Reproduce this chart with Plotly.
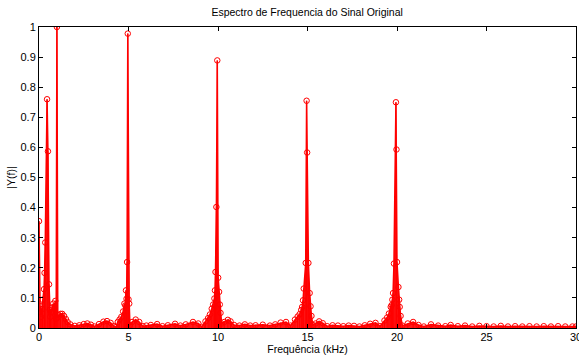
import plotly.graph_objects as go

# ---- data ----
freq_khz = [
    0.00, 0.06, 0.11, 0.17, 0.20, 0.28, 0.31, 0.35, 0.45, 0.50,
    0.56, 0.60, 0.63, 0.67, 0.73, 0.80, 0.87, 0.91, 0.96, 1.00,
    1.05, 1.12, 1.20, 1.30, 1.40, 1.50, 1.60, 1.75, 2.00, 2.25,
    2.50, 2.70, 2.90, 3.10, 3.35, 3.60, 3.80, 4.00, 4.20, 4.30,
    4.40, 4.50, 4.60, 4.70, 4.77, 4.82, 4.86, 4.89, 4.92, 4.96,
    5.00, 5.04, 5.08, 5.20, 5.40, 5.60, 5.80, 6.00, 6.25, 6.60,
    6.90, 7.20, 7.60, 7.90, 8.20, 8.60, 8.90, 9.10, 9.30, 9.45,
    9.55, 9.65, 9.73, 9.80, 9.83, 9.86, 9.91, 9.96, 10.01, 10.06,
    10.10, 10.14, 10.20, 10.35, 10.55, 10.70, 10.90, 11.20, 11.50, 11.80,
    12.10, 12.50, 12.90, 13.20, 13.50, 13.80, 14.05, 14.30, 14.45, 14.56,
    14.65, 14.70, 14.75, 14.79, 14.90, 14.95, 14.98, 15.05, 15.12, 15.17,
    15.22, 15.30, 15.45, 15.65, 15.85, 16.10, 16.40, 16.70, 17.00, 17.30,
    17.60, 17.90, 18.20, 18.50, 18.80, 19.05, 19.30, 19.45, 19.55, 19.65,
    19.70, 19.74, 19.78, 19.83, 19.94, 19.97, 20.00, 20.08, 20.12, 20.15,
    20.20, 20.30, 20.60, 20.90, 21.20, 21.50, 21.90, 22.30, 22.70, 23.00,
    23.40, 23.80, 24.20, 24.60, 25.00, 25.40, 25.80, 26.20, 26.60, 27.00,
    27.40, 27.80, 28.20, 28.60, 29.00, 29.40, 29.80, 30.00,
]
magnitude = [
    0.355, 0.073, 0.037, 0.063, 0.094, 0.129, 0.183, 0.284, 0.760, 0.587,
    0.145, 0.060, 0.037, 0.053, 0.068, 0.081, 0.070, 0.090, 0.031, 1.000,
    0.035, 0.042, 0.047, 0.047, 0.040, 0.030, 0.020, 0.012, 0.007, 0.009,
    0.013, 0.015, 0.011, 0.005, 0.013, 0.021, 0.023, 0.017, 0.006, 0.003,
    0.020, 0.028, 0.037, 0.055, 0.081, 0.075, 0.125, 0.097, 0.219, 0.978,
    0.095, 0.081, 0.010, 0.020, 0.028, 0.020, 0.006, 0.008, 0.010, 0.013,
    0.006, 0.009, 0.014, 0.008, 0.012, 0.020, 0.015, 0.004, 0.022, 0.033,
    0.045, 0.064, 0.078, 0.098, 0.125, 0.186, 0.402, 0.889, 0.167, 0.120,
    0.078, 0.050, 0.015, 0.020, 0.027, 0.022, 0.010, 0.008, 0.012, 0.008,
    0.009, 0.011, 0.008, 0.012, 0.018, 0.020, 0.008, 0.028, 0.038, 0.046,
    0.060, 0.070, 0.092, 0.131, 0.216, 0.755, 0.583, 0.216, 0.116, 0.072,
    0.040, 0.010, 0.015, 0.022, 0.016, 0.006, 0.009, 0.008, 0.006, 0.008,
    0.007, 0.005, 0.009, 0.014, 0.017, 0.006, 0.025, 0.035, 0.048, 0.070,
    0.076, 0.094, 0.116, 0.214, 0.750, 0.593, 0.219, 0.136, 0.094, 0.070,
    0.040, 0.008, 0.015, 0.020, 0.010, 0.005, 0.012, 0.008, 0.006, 0.010,
    0.006, 0.008, 0.005, 0.007, 0.006, 0.005, 0.007, 0.005, 0.006, 0.005,
    0.006, 0.005, 0.006, 0.005, 0.006, 0.005, 0.005, 0.005,
]

x_tick_vals = [0, 5, 10, 15, 20, 25, 30]
y_tick_vals = [0, 0.1, 0.2, 0.3, 0.4, 0.5, 0.6, 0.7, 0.8, 0.9, 1]
y_tick_text = ["0", "0.1", "0.2", "0.3", "0.4", "0.5", "0.6", "0.7", "0.8", "0.9", "1"]

title_text = "Espectro de Frequencia do Sinal Original"
x_label = "Frequência (kHz)"
y_label = "|Y(f)|"

RED = "#ff0000"
FONT = "Liberation Sans, Arial, sans-serif"

# stems (vertical lines from zero to each value)
stem_x, stem_y = [], []
for f, v in zip(freq_khz, magnitude):
    stem_x += [f, f, None]
    stem_y += [0, v, None]

fig = go.Figure()
# dense stems merge into a filled envelope
fig.add_trace(go.Scatter(
    x=freq_khz, y=magnitude, mode="lines", fill="tozeroy",
    fillcolor="rgba(255,0,0,0.9)", line=dict(color=RED, width=1.5),
    hoverinfo="skip", showlegend=False))
fig.add_trace(go.Scatter(
    x=stem_x, y=stem_y, mode="lines", line=dict(color=RED, width=1),
    hoverinfo="skip", showlegend=False))
fig.add_trace(go.Scatter(
    x=freq_khz, y=magnitude, mode="markers",
    marker=dict(symbol="circle-open", size=5.5, color=RED, line=dict(width=1, color=RED)),
    showlegend=False))

axis_common = dict(
    showline=True, linecolor="black", linewidth=1, mirror="ticks",
    ticks="inside", ticklen=4, tickcolor="black", tickwidth=1,
    showgrid=False, zeroline=False,
    tickfont=dict(family=FONT, size=11, color="black"),
)

fig.update_layout(
    width=579, height=356, autosize=False,
    margin=dict(l=39, r=3, t=27, b=28),
    paper_bgcolor="white", plot_bgcolor="white",
    font=dict(family=FONT, color="black"),
    title=dict(text=title_text, x=0.5305, xanchor="center", y=1 - 12 / 356,
               yanchor="middle", yref="container",
               font=dict(family=FONT, size=10.5, color="black")),
    xaxis=dict(range=[0, 30], tickvals=x_tick_vals, automargin=False,
               ticklabeloverflow="allow", ticklabelstandoff=-1,
               title=dict(text=x_label, standoff=0,
                          font=dict(family=FONT, size=10.5, color="black")),
               **axis_common),
    yaxis=dict(range=[0, 1], tickvals=y_tick_vals, ticktext=y_tick_text, automargin=False,
               title=dict(text=y_label, standoff=2,
                          font=dict(family=FONT, size=10.5, color="black")),
               **axis_common),
)

fig.write_html("out.html")
